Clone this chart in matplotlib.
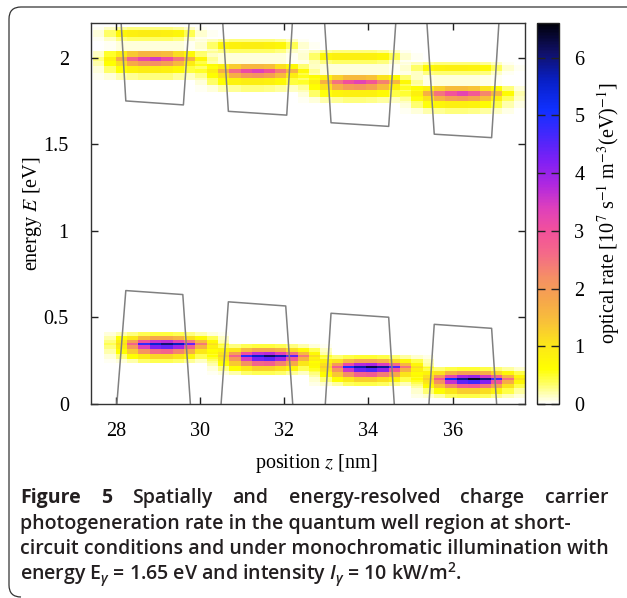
import numpy as np
import matplotlib
matplotlib.use("Agg")
import matplotlib.pyplot as plt
from matplotlib.colors import LinearSegmentedColormap
from matplotlib.path import Path
from matplotlib.patches import PathPatch

# ---------------- data ----------------
# heat-map cells along z (nm)
z_cell_origin = 27.73
z_cell_width = 0.270

# lower (valence band) blobs
vb_peak_energy = [0.345, 0.277, 0.212, 0.145]
vb_peak_rate = [6.0, 6.1, 6.25, 6.4]
vb_first_cell = [0, 9, 18, 27]
vb_row_edges = [0.070, 0.045, 0.022, 0.006, -0.006, -0.028, -0.056, -0.085, -0.110]
vb_profile = [
    [0.10, 0.20, 0.30, 0.40, 0.45, 0.45, 0.40, 0.30, 0.20, 0.10, 0.05],
    [0.20, 0.60, 1.00, 1.50, 1.80, 1.80, 1.60, 1.10, 0.70, 0.40, 0.15],
    [0.30, 0.90, 1.90, 3.00, 3.60, 3.70, 3.30, 2.50, 1.50, 0.70, 0.20],
    [0.40, 1.10, 2.70, 4.80, 5.50, 6.00, 5.60, 4.40, 2.40, 1.00, 0.30],
    [0.30, 0.90, 2.00, 3.40, 4.20, 4.40, 3.90, 2.80, 1.60, 0.70, 0.20],
    [0.20, 0.60, 1.30, 2.10, 2.60, 2.70, 2.30, 1.70, 1.00, 0.40, 0.15],
    [0.10, 0.30, 0.60, 0.95, 1.20, 1.20, 1.05, 0.75, 0.40, 0.20, 0.10],
    [0.05, 0.10, 0.20, 0.35, 0.40, 0.40, 0.35, 0.25, 0.15, 0.08, 0.03],
]

# upper (conduction band) blobs
cb_peak_energy = [1.993, 1.921, 1.857, 1.792]
cb_peak_rate = [3.5, 3.4, 3.3, 3.25]
cb_first_cell = [-1, 8, 17, 26]
cb_row_edges = [0.185, 0.168, 0.127, 0.105, 0.044, 0.012, -0.012, -0.042, -0.081, -0.120]
cb_profile = [
    [0.05, 0.15, 0.25, 0.30, 0.30, 0.30, 0.30, 0.25, 0.15, 0.05, 0.02],
    [0.10, 0.35, 0.75, 0.85, 0.90, 0.90, 0.85, 0.75, 0.40, 0.12, 0.03],
    [0.05, 0.15, 0.30, 0.35, 0.35, 0.35, 0.35, 0.30, 0.15, 0.05, 0.02],
    [0.02, 0.05, 0.08, 0.10, 0.10, 0.10, 0.10, 0.08, 0.05, 0.02, 0.01],
    [0.15, 0.50, 0.90, 1.30, 1.55, 1.55, 1.45, 1.10, 0.70, 0.30, 0.10],
    [0.30, 0.80, 1.70, 2.60, 3.10, 3.40, 3.00, 2.40, 1.60, 0.70, 0.20],
    [0.20, 0.60, 1.10, 1.70, 2.00, 2.10, 1.90, 1.50, 0.90, 0.40, 0.15],
    [0.10, 0.35, 0.60, 0.80, 0.90, 0.90, 0.85, 0.70, 0.45, 0.20, 0.08],
    [0.03, 0.10, 0.20, 0.25, 0.30, 0.30, 0.28, 0.22, 0.15, 0.06, 0.02],
]

# band-edge outlines of the four wells
cb_well_z = [[28.126, 28.237, 29.605, 29.740],
             [30.540, 30.673, 32.060, 32.193],
             [32.960, 33.112, 34.482, 34.650],
             [35.390, 35.564, 36.927, 37.100]]
cb_well_E = [[2.2, 1.750, 1.727, 2.2],
             [2.2, 1.690, 1.668, 2.2],
             [2.2, 1.624, 1.603, 2.2],
             [2.2, 1.558, 1.538, 2.2]]
vb_well_z = [[28.024, 28.237, 29.591, 29.771],
             [30.500, 30.673, 32.036, 32.202],
             [32.976, 33.112, 34.482, 34.614],
             [35.438, 35.564, 36.927, 37.046]]
vb_well_E = [[0.0, 0.655, 0.632, 0.0],
             [0.0, 0.590, 0.566, 0.0],
             [0.0, 0.524, 0.501, 0.0],
             [0.0, 0.460, 0.437, 0.0]]

x_ticks = [28, 30, 32, 34, 36]
y_ticks = [0, 0.5, 1, 1.5, 2]
y_tick_labels = ["0", "0.5", "1", "1.5", "2"]
cb_ticks = [0, 1, 2, 3, 4, 5, 6]
rate_max = 6.6

# ---------------- raster assembly ----------------
E_step = 0.0025
n_rows = int(round(2.2 / E_step))
E_centers = (np.arange(n_rows) + 0.5) * E_step
n_cells = 41
raster = np.zeros((n_rows, n_cells))


def add_blob(peak_E, rate, first_cell, edges, profile):
    prof = np.asarray(profile, float)
    prof = prof * rate / prof.max()
    for r in range(prof.shape[0]):
        hi = peak_E + edges[r]
        lo = peak_E + edges[r + 1]
        sel = (E_centers >= lo) & (E_centers < hi)
        for j, v in enumerate(prof[r]):
            c = first_cell + j + 1
            if 0 <= c < n_cells:
                raster[sel, c] += v


for i in range(4):
    add_blob(vb_peak_energy[i], vb_peak_rate[i], vb_first_cell[i], vb_row_edges, vb_profile)
    add_blob(cb_peak_energy[i], cb_peak_rate[i], cb_first_cell[i], cb_row_edges, cb_profile)

z_left = z_cell_origin - z_cell_width
z_right = z_left + n_cells * z_cell_width

# ---------------- colormap ----------------
anchors = [
    (0.00, "#ffffff"), (0.35, "#ffff60"), (0.60, "#ffff00"), (1.00, "#fce818"),
    (1.40, "#f8c238"), (1.80, "#f6a64c"), (2.20, "#f58e66"), (2.60, "#f46a88"),
    (3.00, "#f2509c"), (3.40, "#de40bc"), (3.80, "#b028e0"), (4.20, "#8020f4"),
    (4.70, "#4028fc"), (5.10, "#1030ff"), (5.60, "#0820c8"), (6.10, "#101068"),
    (6.60, "#000008"),
]
cmap = LinearSegmentedColormap.from_list(
    "optrate", [(v / rate_max, c) for v, c in anchors])

# ---------------- figure ----------------
W, H = 627, 598
fig = plt.figure(figsize=(W / 100, H / 100), dpi=100)
serif = "Liberation Serif"
fs = 14.5

ax = fig.add_axes([91 / W, 1 - 404 / H, 434 / W, 381 / H])
im = ax.imshow(raster, origin="lower", extent=[z_left, z_right, 0, 2.2],
               aspect="auto", cmap=cmap, vmin=0, vmax=rate_max,
               interpolation="nearest")
for zs, Es in zip(cb_well_z, cb_well_E):
    ax.plot(zs, Es, color="#808080", lw=1.1)
for zs, Es in zip(vb_well_z, vb_well_E):
    ax.plot(zs, Es, color="#808080", lw=1.1)
ax.set_xlim(27.41, 37.72)
ax.set_ylim(0, 2.2)
ax.set_xticks(x_ticks)
ax.set_xticklabels([str(t) for t in x_ticks], fontfamily=serif, fontsize=fs)
ax.set_yticks(y_ticks)
ax.set_yticklabels(y_tick_labels, fontfamily=serif, fontsize=fs)
ax.tick_params(direction="in", top=True, right=True, length=5, width=1,
               color="#222222")
ax.tick_params(axis="x", pad=13)
ax.tick_params(axis="y", pad=16)
for s in ax.spines.values():
    s.set_color("#333333")
    s.set_linewidth(1.0)
ax.set_xlabel("position $z$ [nm]", fontfamily=serif, fontsize=fs,
              math_fontfamily="stix")
ax.set_ylabel("energy $E$ [eV]", fontfamily=serif, fontsize=fs,
              math_fontfamily="stix")
ax.xaxis.set_label_coords(0.52, -0.125)
ax.yaxis.set_label_coords(-0.108, 0.5)

cax = fig.add_axes([537 / W, 1 - 404 / H, 22 / W, 381 / H])
cb = fig.colorbar(im, cax=cax, ticks=cb_ticks)
cb.outline.set_edgecolor("#222222")
cb.outline.set_linewidth(1.0)
cax.tick_params(direction="in", left=True, right=True, length=6, width=1,
                color="#222222", pad=11, labelsize=fs)
for lab in cax.get_yticklabels():
    lab.set_fontfamily(serif)
cb.set_label(r"optical rate [10$^{7}$ s$^{-1}$ m$^{-3}$(eV)$^{-1}$]",
             fontfamily=serif, fontsize=fs, math_fontfamily="stix", labelpad=8)

# ---------------- frame of the caption box ----------------
r = 12
verts = [(W + 5, 7), (9 + r, 7), (9, 7), (9, 7 + r), (9, 598 - r - 1),
         (9, 597), (9 + r, 597)]
codes = [Path.MOVETO, Path.LINETO, Path.CURVE3, Path.CURVE3, Path.LINETO,
         Path.CURVE3, Path.CURVE3]
verts_fig = [(x / W, 1 - y / H) for x, y in verts]
fig.patches.append(PathPatch(Path(verts_fig, codes), transform=fig.transFigure,
                             fill=False, edgecolor="#333333", lw=0.9))

# ---------------- caption ----------------
plt.rcParams["mathtext.fontset"] = "custom"
plt.rcParams["mathtext.rm"] = "Open Sans:semibold"
plt.rcParams["mathtext.it"] = "Open Sans:italic:semibold"
cap_family = "Open Sans"
renderer = fig.canvas.get_renderer()
x0, x1 = 20, 608
baselines = [503, 529, 554, 579]


def put(x, y, s, size, weight="semibold"):
    return fig.text(x / W, 1 - y / H, s, fontsize=size, fontfamily=cap_family,
                    fontweight=weight, va="baseline", ha="left",
                    color="#231f20", math_fontfamily="custom")


# fit font size so line 3 spans the full width
probe = put(x0, baselines[2],
            "circuit conditions and under monochromatic illumination with", 12)
w12 = probe.get_window_extent(renderer).width
probe.remove()
csize = 12 * (x1 - x0) / w12

# line 1: justified
words1 = [("Figure", "bold"), ("5", "bold"), ("Spatially", "semibold"),
          ("and", "semibold"), ("energy-resolved", "semibold"),
          ("charge", "semibold"), ("carrier", "semibold")]
objs = [put(x0, baselines[0], w, csize, wt) for w, wt in words1]
widths = [o.get_window_extent(renderer).width for o in objs]
gap = ((x1 - x0) - sum(widths)) / (len(objs) - 1)
xx = x0
for o, wd in zip(objs, widths):
    o.set_x(xx / W)
    xx += wd + gap

put(x0, baselines[1], "photogeneration rate in the quantum well region at short-", csize)
put(x0, baselines[2], "circuit conditions and under monochromatic illumination with", csize)
put(x0, baselines[3],
    r"energy E$_{\gamma}$ = 1.65 eV and intensity $I_{\gamma}$ = 10 kW/m$^{2}$.", csize)

fig.savefig("out.png", dpi=100)
